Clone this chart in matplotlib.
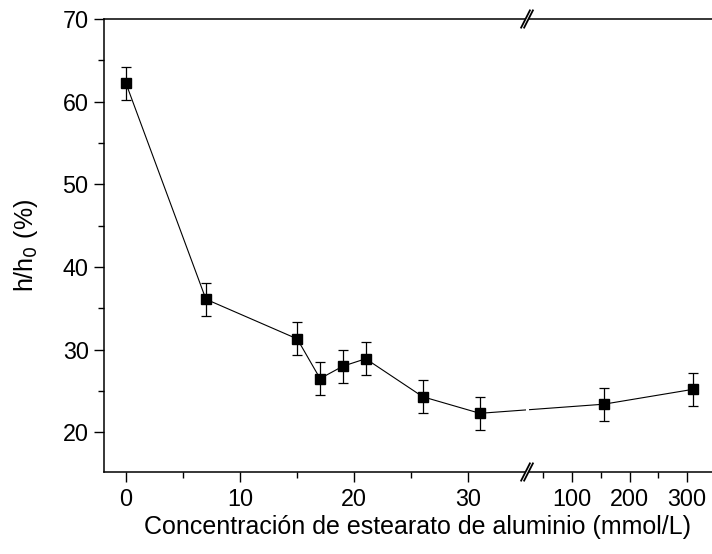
import numpy as np
import matplotlib
matplotlib.use("Agg")
import matplotlib.pyplot as plt
from matplotlib.lines import Line2D
from matplotlib.patches import Rectangle

plt.rcParams['font.family'] = ['Liberation Sans', 'DejaVu Sans']

# concentration (mmol/L) vs relative height
conc = [0, 7, 15, 17, 19, 21, 26, 31, 155, 310]
h_rel = [62.2, 36.1, 31.3, 26.5, 28.0, 28.9, 24.3, 22.3, 23.4, 25.2]
h_err = [2.0, 2.0, 2.0, 2.0, 2.0, 2.0, 2.0, 2.0, 2.0, 2.0]

major_ticks = [0, 10, 20, 30, 100, 200, 300]
minor_ticks = [5, 15, 25, 50, 150, 250]

# broken x axis: linear up to A, compressed linear after B
A, B, GAP, K = 35.0, 38.5, 0.96, 0.0505


def fwd(x):
    x = np.asarray(x, dtype=float)
    mid = A + (x - A) / (B - A) * GAP
    return np.where(x <= A, x, np.where(x >= B, A + GAP + (x - B) * K, mid))


def inv(u):
    u = np.asarray(u, dtype=float)
    mid = A + (u - A) / GAP * (B - A)
    return np.where(u <= A, u, np.where(u >= A + GAP, B + (u - A - GAP) / K, mid))


fig = plt.figure(figsize=(7.12, 5.54), dpi=100)
ax = fig.add_axes([104 / 712, 82 / 554, 608 / 712, 453 / 554])
ax.set_xscale('function', functions=(fwd, inv))

ax.errorbar(conc, h_rel, yerr=h_err, fmt='s-', color='black', ms=7.3,
            lw=0.8, elinewidth=0.9, capsize=3.3, capthick=0.9)

ax.set_xlim(-1.93, 343)
ax.set_ylim(15.2, 70)
ax.set_xticks(major_ticks)
ax.set_xticklabels([str(t) for t in major_ticks])
ax.set_xticks(minor_ticks, minor=True)
ax.set_yticks([20, 30, 40, 50, 60, 70])
ax.set_yticks([25, 35, 45, 55, 65], minor=True)

ax.spines['right'].set_visible(False)
for s in ['left', 'bottom', 'top']:
    ax.spines[s].set_linewidth(1.1)
ax.tick_params(which='major', direction='out', length=7, width=1.0,
               labelsize=16.8, top=False, right=False)
ax.tick_params(which='minor', direction='out', length=4, width=1.0,
               top=False, right=False)
ax.tick_params(axis='x', which='major', pad=4.5)
ax.tick_params(axis='y', which='major', pad=4)

ax.set_xlabel('Concentración de estearato de aluminio (mmol/L)', fontsize=18, labelpad=3)
ax.xaxis.label.set_x(0.516)
ax.set_ylabel('h/h$_0$ (%)', fontsize=18, labelpad=16)

# white band hides spines and line across the break
bx0, bx1 = fwd(A), fwd(A) + GAP
trans = ax.get_xaxis_transform()
ax.add_patch(Rectangle((bx0, -0.02), bx1 - bx0, 1.04, transform=trans,
                       facecolor='white', edgecolor='none', clip_on=False, zorder=5))

# slanted break marks on bottom and top spines
dx = 0.0072
dy = 0.019
for yb in (0.0, 1.0):
    for xc in (bx0, bx1):
        xa = ax.transAxes.inverted().transform(ax.transData.transform((xc, 20)))[0]
        ax.add_line(Line2D([xa - dx, xa + dx], [yb - dy, yb + dy], transform=ax.transAxes,
                           color='black', lw=1.3, clip_on=False, zorder=6))

fig.savefig('out.png', dpi=100)
